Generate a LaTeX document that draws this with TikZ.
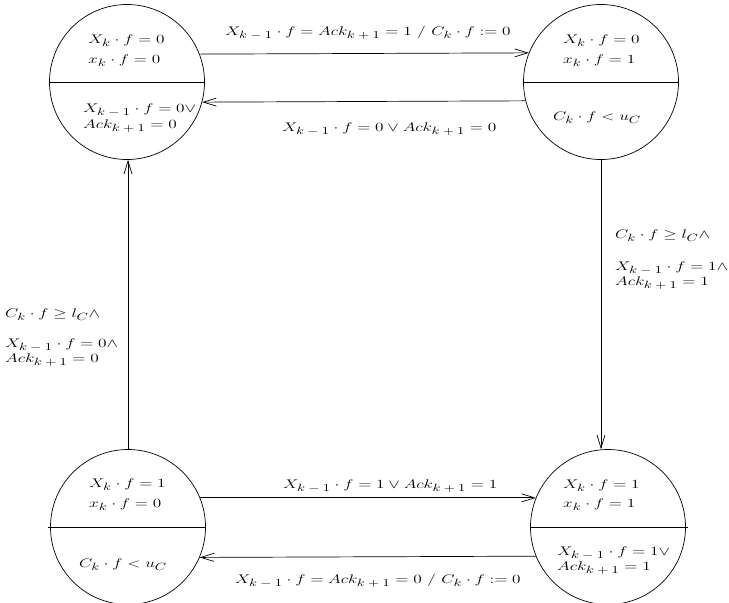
\RequirePackage{fix-cm}
\documentclass[tikz,border=0pt]{standalone}
\usepackage{graphicx}
\usetikzlibrary{arrows.meta}
\newcommand\dsub[1]{_{\raisebox{-1.8pt}{\fontsize{10.5}{12}\selectfont$#1$}}}
\newcommand\lbl[1]{\scalebox{1.38}[1]{$#1$}}
\begin{document}
\begin{tikzpicture}[x=1pt,y=-1pt,
  state/.style={circle,draw,line width=0.7pt,minimum size=155pt,inner sep=0pt},
  lab/.style={font=\fontsize{12.5}{14}\selectfont,inner sep=0pt,anchor=base west},
  conn/.style={line width=0.7pt,-{Straight Barb[length=13pt,width=8pt]}}]
\useasboundingbox (0,0) rectangle (729,603);
% states
\node[state] (tl) at (127,82) {};
\node[state] (tr) at (601,82) {};
\node[state] (bl) at (128,527) {};
\node[state] (br) at (608,527) {};
\draw[line width=0.7pt] (tl.west) -- (tl.east);
\draw[line width=0.7pt] (tr.west) -- (tr.east);
\draw[line width=0.9pt] ([xshift=-2pt]bl.west) -- (bl.east);
\draw[line width=0.9pt] (br.west) -- ([xshift=2pt]br.east);
% state texts
\node[lab] (tl1) at (88,43) {\lbl{X\dsub{k}\cdot f = 0}};
\node[lab] (tl2) at (88,63) {\lbl{x\dsub{k}\cdot f = 0}};
\node[lab] (tl3) at (83,112) {\lbl{X\dsub{k-1}\cdot f = 0{\vee}}};
\node[lab] (tl4) at (83,128) {\lbl{Ack\dsub{k+1} = 0}};
\node[lab] (tr1) at (563,43) {\lbl{X\dsub{k}\cdot f = 0}};
\node[lab] (tr2) at (563,63) {\lbl{x\dsub{k}\cdot f = 1}};
\node[lab] (tr3) at (553,120) {\lbl{C\dsub{k}\cdot f < u\dsub{C}}};
\node[lab] (bl1) at (89,487) {\lbl{X\dsub{k}\cdot f = 1}};
\node[lab] (bl2) at (89,507) {\lbl{x\dsub{k}\cdot f = 0}};
\node[lab] (bl3) at (79,567) {\lbl{C\dsub{k}\cdot f < u\dsub{C}}};
\node[lab] (br1) at (563,488) {\lbl{X\dsub{k}\cdot f = 1}};
\node[lab] (br2) at (563,507) {\lbl{x\dsub{k}\cdot f = 1}};
\node[lab] (br3) at (557,555) {\lbl{X\dsub{k-1}\cdot f = 1{\vee}}};
\node[lab] (br4) at (557,570) {\lbl{Ack\dsub{k+1} = 1}};
% connectors
\draw[conn] (tl.21.8) -- (tr.158.2);
\draw[conn] (tr.194.1) -- (tl.345.9);
\draw[conn] (bl.22) -- (br.158);
\draw[conn] (br.202.8) -- (bl.337.2);
\draw[conn] (bl.north) -- (bl.north |- tl.south);
\draw[conn] (tr.south) -- (tr.south |- br.north);
% connector labels
\node[lab] (e1) at (225,35) {\lbl{X\dsub{k-1}\cdot f = Ack\dsub{k+1} = 1\ /\ C\dsub{k}\cdot f := 0}};
\node[lab] (e2) at (282,131) {\lbl{X\dsub{k-1}\cdot f = 0 \vee Ack\dsub{k+1} = 0}};
\node[lab] (e3) at (283,488) {\lbl{X\dsub{k-1}\cdot f = 1 \vee Ack\dsub{k+1} = 1}};
\node[lab] (e4) at (235,583) {\lbl{X\dsub{k-1}\cdot f = Ack\dsub{k+1} = 0\ /\ C\dsub{k}\cdot f := 0}};
\node[lab] (l1) at (5,317) {\lbl{C\dsub{k}\cdot f \geq l\dsub{C}{\wedge}}};
\node[lab] (l2) at (5,347) {\lbl{X\dsub{k-1}\cdot f = 0{\wedge}}};
\node[lab] (l3) at (5,362) {\lbl{Ack\dsub{k+1} = 0}};
\node[lab] (r1) at (615,238) {\lbl{C\dsub{k}\cdot f \geq l\dsub{C}{\wedge}}};
\node[lab] (r2) at (615,270) {\lbl{X\dsub{k-1}\cdot f = 1{\wedge}}};
\node[lab] (r3) at (615,285) {\lbl{Ack\dsub{k+1} = 1}};
\end{tikzpicture}
\end{document}
